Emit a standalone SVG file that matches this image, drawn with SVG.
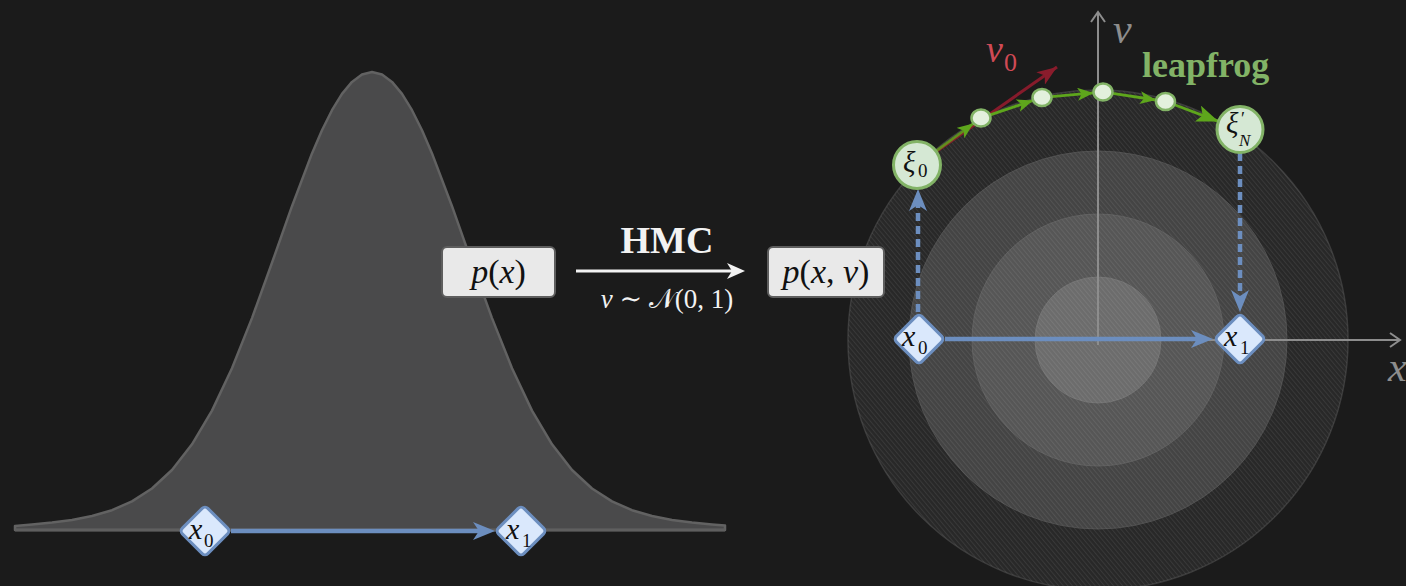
<svg xmlns="http://www.w3.org/2000/svg" width="1406" height="586" viewBox="0 0 1406 586">
<style>
.math{font-family:"Liberation Serif","DejaVu Serif",serif;fill:#111}
.it{font-style:italic}
.box{fill:#e9e9e9;stroke:#5e5e5e;stroke-width:2}
.dia{fill:#dae8fc;stroke:#6c8ebf;stroke-width:3}
.gnode{fill:#d5e8d4;stroke:#82b366;stroke-width:3}
.dot{fill:#e3f0dd;stroke:#82b366;stroke-width:2.5}
.blue{stroke:#6c8ebf;stroke-width:4.5;fill:none}
.dash{stroke-dasharray:8 5}
.green{stroke:#5ea61c;stroke-width:2.8;fill:none}
.axis{stroke:#8d8d8d;stroke-width:2;fill:none}
</style>
<defs>
<pattern id="hatch" width="3.5" height="3.5" patternUnits="userSpaceOnUse" patternTransform="rotate(-40)">
<line x1="0.5" y1="0" x2="0.5" y2="3.5" stroke="#ffffff" stroke-opacity="0.08" stroke-width="1"/>
</pattern>
<marker id="mb" viewBox="0 0 22 20" refX="14" refY="10" markerWidth="22" markerHeight="20" markerUnits="userSpaceOnUse" orient="auto"><path d="M0,1 L22,10 L0,19 L6,10 Z" fill="#6c8ebf"/></marker>
<marker id="mg" viewBox="0 0 16 13" refX="16" refY="6.5" markerWidth="16" markerHeight="13" markerUnits="userSpaceOnUse" orient="auto"><path d="M0,0 L16,6.5 L0,13 L4,6.5 Z" fill="#5ea61c"/></marker>
<marker id="mg2" viewBox="0 0 22 17" refX="22" refY="8.5" markerWidth="22" markerHeight="17" markerUnits="userSpaceOnUse" orient="auto"><path d="M0,0 L22,8.5 L0,17 L5,8.5 Z" fill="#5ea61c"/></marker>
<marker id="mr" viewBox="0 0 20 15" refX="20" refY="7.5" markerWidth="20" markerHeight="15" markerUnits="userSpaceOnUse" orient="auto"><path d="M0,0 L20,7.5 L0,15 L5,7.5 Z" fill="#8a1c2c"/></marker>
<marker id="mw" viewBox="0 0 18 16" refX="12" refY="8" markerWidth="18" markerHeight="16" markerUnits="userSpaceOnUse" orient="auto"><path d="M0,0 L18,8 L0,16 L5,8 Z" fill="#f2f2f2"/></marker>
<marker id="mo" viewBox="-1 -1 13 16" refX="10" refY="7" markerWidth="13" markerHeight="16" markerUnits="userSpaceOnUse" orient="auto" overflow="visible"><path d="M0,0 L10,7 L0,14" fill="none" stroke="#8d8d8d" stroke-width="2"/></marker>
</defs>
<rect x="0" y="0" width="1406" height="586" fill="#1b1b1b"/>

<g id="gaussian">
<path d="M15,530 L15,526 L32,524.5 L52,522.6 L72,519.9 L92,516 L112,510.2 L132,501.4 L152,488.5 L172,470 L192,444.3 L212,410.6 L232,368.2 L252,318.1 L272,262.8 L292,206.2 L312,153.4 L322,130.3 L332,110.2 L342,93.9 L352,81.9 L362,74.5 L372,72 L382,74.5 L392,81.9 L402,93.9 L412,110.2 L422,130.3 L432,153.4 L452,206.2 L472,262.8 L492,318.1 L512,368.2 L532,410.6 L552,444.3 L572,470 L592,488.5 L612,501.4 L632,510.2 L652,516 L672,519.9 L692,522.6 L712,524.5 L725,525.6 L725,530 Z" fill="#4a4a4b" stroke="#626262" stroke-width="2.5" stroke-linejoin="round"/>
<line x1="15" y1="530" x2="725" y2="530" stroke="#5f5f5f" stroke-width="3"/>
</g>

<g id="phase-space">
<circle cx="1098" cy="340" r="250" fill="#282828" stroke="#3c3c3c" stroke-width="1.5"/>
<circle cx="1098" cy="340" r="250" fill="url(#hatch)"/>
<circle cx="1098" cy="340" r="189" fill="#444444" stroke="#505050" stroke-width="1"/>
<circle cx="1098" cy="340" r="189" fill="url(#hatch)"/>
<circle cx="1098" cy="340" r="126" fill="#565656" stroke="#606060" stroke-width="1"/>
<circle cx="1098" cy="340" r="126" fill="url(#hatch)"/>
<circle cx="1098" cy="340" r="63" fill="#6c6c6c" stroke="#747474" stroke-width="1"/>
<circle cx="1098" cy="340" r="63" fill="url(#hatch)"/>
<path class="axis" d="M1098,345 V12" marker-end="url(#mo)"/>
<path class="axis" d="M1093,340 H1400" marker-end="url(#mo)"/>
<text x="1113" y="43" font-family="Liberation Serif, serif" font-style="italic" font-size="42" fill="#8d8d8d">v</text>
<text x="1388" y="381" font-family="Liberation Serif, serif" font-style="italic" font-size="42" fill="#8d8d8d">x</text>
</g>

<g id="connectors">
<path class="blue" d="M231,531 H487" marker-end="url(#mb)"/>
<path class="blue" d="M945,339 H1205" marker-end="url(#mb)"/>
<path class="blue dash" d="M918,312 V197" marker-end="url(#mb)"/>
<path class="blue dash" d="M1240,153 V304" marker-end="url(#mb)"/>
<path d="M576,271 H739" stroke="#f2f2f2" stroke-width="3" fill="none" marker-end="url(#mw)"/>
<path d="M936.7,151.2 L1057,67" stroke="#861b2b" stroke-width="3" fill="none" marker-end="url(#mr)"/>
<path class="green" d="M936.3,150.8 L973.3,123.6" stroke-width="2" stroke-opacity="0.8" marker-end="url(#mg)"/>
<path class="green" d="M989.5,115.1 L1033,100.5" marker-end="url(#mg)"/>
<path class="green" d="M1051.5,96.6 L1093.5,92.9" marker-end="url(#mg)"/>
<path class="green" d="M1112.5,93.4 L1156,100" marker-end="url(#mg)"/>
<path class="green" d="M1174.5,104.7 L1218.5,121.4" stroke-width="3.8" marker-end="url(#mg2)"/>
</g>

<g id="labels">
<text x="667" y="253" text-anchor="middle" font-family="Liberation Serif, serif" font-weight="bold" font-size="38" fill="#f2f2f2">HMC</text>
<text x="667" y="308" text-anchor="middle" font-family="Liberation Serif, DejaVu Serif, serif" font-size="27" fill="#f2f2f2"><tspan font-style="italic">v</tspan> ∼ 𝒩(0, 1)</text>
<text x="986" y="62" font-family="Liberation Serif, serif" font-style="italic" font-size="38" fill="#d04a55">v</text>
<text x="1004" y="71" font-family="Liberation Serif, serif" font-size="26" fill="#d04a55">0</text>
<text x="1142" y="77" font-family="Liberation Serif, serif" font-weight="bold" font-size="36" fill="#82b366">leapfrog</text>
</g>

<g id="px">
<rect class="box" x="442" y="247" width="113" height="50" rx="5"/>
<text class="math" x="498.5" y="283" text-anchor="middle" font-size="34"><tspan class="it">p</tspan>(<tspan class="it">x</tspan>)</text>
</g>
<g id="pxv">
<rect class="box" x="768" y="247" width="116" height="50" rx="5"/>
<text class="math" x="826" y="283" text-anchor="middle" font-size="34"><tspan class="it">p</tspan>(<tspan class="it">x</tspan>, <tspan class="it">v</tspan>)</text>
</g>

<g id="x0-left">
<rect class="dia" x="187" y="513" width="36" height="36" rx="4" transform="rotate(45 205 531)"/>
<text class="math" font-size="30"><tspan class="it" x="189" y="539">x</tspan><tspan x="204" y="547" font-size="19">0</tspan></text>
</g>
<g id="x1-left">
<rect class="dia" x="503" y="513" width="36" height="36" rx="4" transform="rotate(45 521 531)"/>
<text class="math" font-size="30"><tspan class="it" x="506" y="539">x</tspan><tspan x="522" y="547" font-size="19">1</tspan></text>
</g>
<g id="x0-right">
<rect class="dia" x="901" y="321" width="36" height="36" rx="4" transform="rotate(45 919 339)"/>
<text class="math" font-size="30"><tspan class="it" x="902" y="346">x</tspan><tspan x="918" y="354" font-size="19">0</tspan></text>
</g>
<g id="x1-right">
<rect class="dia" x="1222" y="321" width="36" height="36" rx="4" transform="rotate(45 1240 339)"/>
<text class="math" font-size="30"><tspan class="it" x="1224" y="346">x</tspan><tspan x="1240" y="354" font-size="19">1</tspan></text>
</g>

<g id="xi0">
<circle class="gnode" cx="917" cy="165" r="23.5"/>
<text class="math" font-size="29"><tspan class="it" x="903" y="172">ξ</tspan><tspan x="918" y="177" font-size="19">0</tspan></text>
</g>
<g id="xiN">
<circle class="gnode" cx="1240" cy="129.5" r="23"/>
<text class="math" font-size="29"><tspan class="it" x="1226" y="133">ξ</tspan><tspan x="1241" y="125" font-size="18">′</tspan><tspan class="it" x="1239" y="146" font-size="17">N</tspan></text>
</g>
<g id="dot1"><ellipse class="dot" cx="981" cy="118" rx="9.5" ry="8.5"/></g>
<g id="dot2"><ellipse class="dot" cx="1042" cy="97.5" rx="9.5" ry="8.5"/></g>
<g id="dot3"><ellipse class="dot" cx="1103" cy="92" rx="9.5" ry="8.5"/></g>
<g id="dot4"><ellipse class="dot" cx="1165.5" cy="101.5" rx="9.5" ry="8.5"/></g>
</svg>
